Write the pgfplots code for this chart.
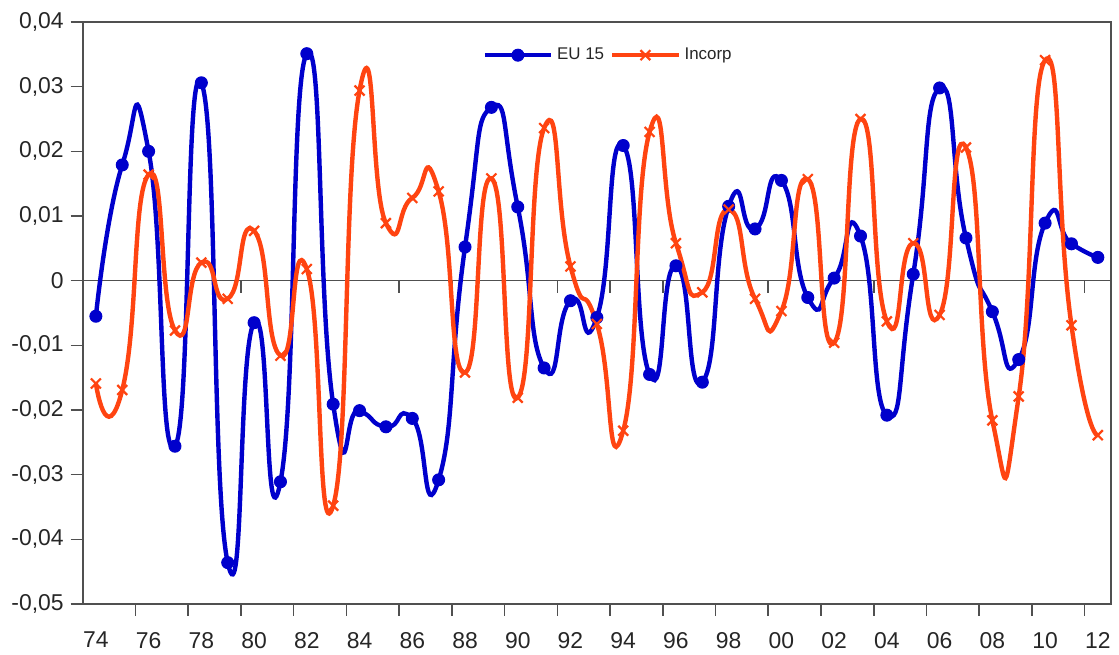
\documentclass[border=0pt]{standalone}
\usepackage{pgfplots}
\pgfplotsset{compat=1.18}
\usepackage{fontspec}
\setmainfont{Liberation Sans}
\definecolor{euBlue}{RGB}{0,0,204}
\definecolor{incOrange}{RGB}{255,68,17}
\definecolor{axGray}{RGB}{80,80,80}
\begin{document}
\begin{tikzpicture}
\begin{axis}[
  at={(41.35bp,25.5bp)}, anchor=south west,
  scale only axis, width=514.15bp, height=291bp,
  xmin=1973.5, xmax=2012.5, ymin=-0.05, ymax=0.04,
  axis line style={axGray, line width=0.8bp},
  tick style={axGray, line width=0.8bp},
  tick align=outside, tick pos=left,
  major tick length=6bp,
  xtick={1975.5,1977.5,1979.5,1981.5,1983.5,1985.5,1987.5,1989.5,1991.5,1993.5,1995.5,1997.5,1999.5,2001.5,2003.5,2005.5,2007.5,2009.5,2011.5},
  xticklabels={},
  extra x ticks={1974,1976,1978,1980,1982,1984,1986,1988,1990,1992,1994,1996,1998,2000,2002,2004,2006,2008,2010,2012},
  extra x tick labels={74,76,78,80,82,84,86,88,90,92,94,96,98,00,02,04,06,08,10,12},
  extra x tick style={major tick length=0pt, xticklabel style={yshift=-10.5bp}},
  scaled y ticks=false,
  ytick={-0.05,-0.04,-0.03,-0.02,-0.01,0,0.01,0.02,0.03,0.04},
  yticklabel style={/pgf/number format/fixed, /pgf/number format/precision=2, /pgf/number format/use comma, /pgf/number format/assume math mode=true},
  ticklabel style={font=\fontsize{11.5}{13}\selectfont, text=black!85},
  legend style={at={(0.512,0.943)}, anchor=center, draw=none, fill=none,
    legend columns=2, font=\fontsize{8.5}{10}\selectfont, text=black!85,
    /tikz/every even column/.append style={column sep=1bp},
    inner sep=0pt, nodes={inner sep=2bp}},
  legend image code/.code={\draw[mark repeat=2, mark phase=2, #1] plot coordinates {(0bp,0bp) (16.5bp,0bp) (33bp,0bp)};},
  clip=false,
]
\draw[axGray, line width=0.8bp] (axis cs:1973.5,0) -- (axis cs:2012.5,0);
\pgfplotsinvokeforeach{1975.5,1977.5,1979.5,1981.5,1983.5,1985.5,1987.5,1989.5,1991.5,1993.5,1995.5,1997.5,1999.5,2001.5,2003.5,2005.5,2007.5,2009.5,2011.5}{
  \draw[axGray, line width=0.8bp] (axis cs:#1,0) -- ++(0bp,-6bp);
}
\addplot[euBlue, line width=2.2bp, smooth, tension=1.1, mark=*, mark size=3bp, mark options={solid, fill=euBlue, line width=0.5bp}] coordinates {
(1974,-0.0055) (1975,0.0179) (1976,0.0200) (1977,-0.0256) (1978,0.0306)
(1979,-0.0436) (1980,-0.0065) (1981,-0.0311) (1982,0.0351) (1983,-0.0191)
(1984,-0.0201) (1985,-0.0226) (1986,-0.0213) (1987,-0.0308) (1988,0.0052)
(1989,0.0268) (1990,0.0114) (1991,-0.0135) (1992,-0.0031) (1993,-0.0057)
(1994,0.0209) (1995,-0.0145) (1996,0.0023) (1997,-0.0157) (1998,0.0115)
(1999,0.0080) (2000,0.0155) (2001,-0.0026) (2002,0.0004) (2003,0.0069)
(2004,-0.0208) (2005,0.0010) (2006,0.0298) (2007,0.0066) (2008,-0.0048)
(2009,-0.0122) (2010,0.0089) (2011,0.0057) (2012,0.0036)
};
\addlegendentry{EU 15}
\addplot[incOrange, line width=2.2bp, smooth, tension=1.1, mark=x, mark size=3.5bp, mark options={solid, line width=1.1bp}] coordinates {
(1974,-0.0159) (1975,-0.0169) (1976,0.0164) (1977,-0.0077) (1978,0.0028)
(1979,-0.0028) (1980,0.0077) (1981,-0.0116) (1982,0.0018) (1983,-0.0348)
(1984,0.0294) (1985,0.0089) (1986,0.0128) (1987,0.0138) (1988,-0.0142)
(1989,0.0158) (1990,-0.0181) (1991,0.0236) (1992,0.0022) (1993,-0.0067)
(1994,-0.0232) (1995,0.0230) (1996,0.0058) (1997,-0.0018) (1998,0.0110)
(1999,-0.0028) (2000,-0.0047) (2001,0.0157) (2002,-0.0096) (2003,0.0250)
(2004,-0.0063) (2005,0.0058) (2006,-0.0053) (2007,0.0206) (2008,-0.0216)
(2009,-0.0179) (2010,0.0341) (2011,-0.0069) (2012,-0.0239)
};
\addlegendentry{Incorp}
\end{axis}
\pgfresetboundingbox
\useasboundingbox (0,0) rectangle (559.5bp,327.5bp);
\end{tikzpicture}
\end{document}
